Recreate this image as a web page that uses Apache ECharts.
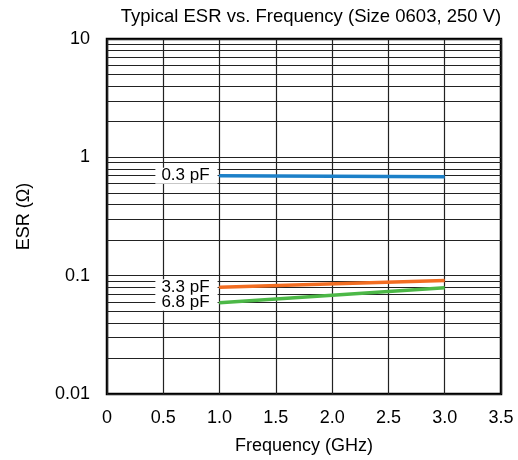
<!DOCTYPE html>
<html>
<head>
<meta charset="utf-8">
<script src="https://cdn.jsdelivr.net/npm/echarts@6/dist/echarts.min.js"></script>
<style>
html,body{margin:0;padding:0;background:#fff;}
#chart{width:518px;height:460px;}
</style>
</head>
<body>
<div id="chart"></div>
<script>
// Data
var seriesNames = ['0.3 pF', '3.3 pF', '6.8 pF'];
var freqGHz = [1.0, 3.0];
var esr03pF = [0.70, 0.685];
var esr33pF = [0.080, 0.091];
var esr68pF = [0.059, 0.079];
var seriesColors = ['#1c80c8', '#f26d22', '#4cb847'];

var xTickValues = [0, 0.5, 1, 1.5, 2, 2.5, 3, 3.5];
var xTickLabels = ['0', '0.5', '1.0', '1.5', '2.0', '2.5', '3.0', '3.5'];
var yTickValues = [0.01, 0.1, 1, 10];
var yTickLabels = ['0.01', '0.1', '1', '10'];
var decadeStarts = [0.01, 0.1, 1];
var minorMultipliers = [2, 3, 4, 5, 6, 7, 8, 9];

var FONT = 'Liberation Sans, Arial, sans-serif';

function nearestLabel(v, vals, labels) {
  var best = 0, bd = Infinity;
  for (var i = 0; i < vals.length; i++) {
    var d;
    if (vals[i] === 0 || v === 0) d = Math.abs(v - vals[i]);
    else d = Math.abs(Math.log(Math.abs(v)) - Math.log(vals[i]));
    if (d < bd) { bd = d; best = i; }
  }
  return labels[best];
}

var minorLines = [];
decadeStarts.forEach(function (d) {
  minorMultipliers.forEach(function (m) {
    minorLines.push({ yAxis: +(d * m).toPrecision(3) });
  });
});

function buildSeries(name, ys, color) {
  return {
    name: name,
    type: 'line',
    z: 5,
    data: freqGHz.map(function (x, i) { return [x, ys[i]]; }),
    symbol: 'none',
    lineStyle: { color: color, width: 3.5 },
    itemStyle: { color: color },
    emphasis: { disabled: true },
    silent: true,
    animation: false,
    markPoint: {
      silent: true,
      animation: false,
      symbol: 'circle',
      symbolSize: 2,
      itemStyle: { color: color },
      data: [{
        coord: [freqGHz[0], ys[0]],
        label: {
          show: true,
          position: 'left',
          distance: 1,
          formatter: name,
          backgroundColor: '#fff',
          padding: [1, 8, 0, 6],
          lineHeight: 15,
          color: '#000',
          fontFamily: FONT,
          fontSize: 17
        }
      }]
    }
  };
}

var chart = echarts.init(document.getElementById('chart'), null, { renderer: 'canvas' });
chart.setOption({
  animation: false,
  backgroundColor: '#fff',
  title: {
    text: 'Typical ESR vs. Frequency (Size 0603, 250 V)',
    left: 306,
    top: 2,
    textAlign: 'center',
    textStyle: { fontFamily: FONT, fontSize: 18.5, fontWeight: 'normal', color: '#000' }
  },
  grid: {
    left: 107, right: 17, top: 39, bottom: 66,
    show: true, borderColor: '#000', borderWidth: 2.5, backgroundColor: 'transparent'
  },
  xAxis: {
    type: 'value',
    min: 0, max: 3.5, interval: 0.5,
    name: 'Frequency (GHz)',
    nameLocation: 'middle',
    nameGap: 43,
    nameTextStyle: { fontFamily: FONT, fontSize: 18, color: '#000' },
    axisLine: { show: false },
    axisTick: { show: false },
    axisLabel: {
      margin: 15,
      fontFamily: FONT, fontSize: 18, color: '#000',
      formatter: function (v) { return nearestLabel(v, xTickValues, xTickLabels); }
    },
    splitLine: { show: true, lineStyle: { color: '#222', width: 1.2 } }
  },
  yAxis: {
    type: 'log',
    logBase: 10,
    min: 0.01, max: 10,
    name: 'ESR (Ω)',
    nameLocation: 'middle',
    nameGap: 74,
    nameTextStyle: { fontFamily: FONT, fontSize: 18, color: '#000' },
    axisLine: { show: false },
    axisTick: { show: false },
    axisLabel: {
      margin: 17,
      fontFamily: FONT, fontSize: 18, color: '#000',
      formatter: function (v) { return nearestLabel(v, yTickValues, yTickLabels); }
    },
    splitLine: { show: true, lineStyle: { color: '#222', width: 1.2 } }
  },
  series: [
    {
      type: 'line',
      z: 1,
      data: [],
      silent: true,
      markLine: {
        silent: true,
        symbol: 'none',
        animation: false,
        label: { show: false },
        lineStyle: { color: '#222', width: 1.2, type: 'solid' },
        emphasis: { disabled: true },
        data: minorLines
      }
    },
    buildSeries(seriesNames[0], esr03pF, seriesColors[0]),
    buildSeries(seriesNames[1], esr33pF, seriesColors[1]),
    buildSeries(seriesNames[2], esr68pF, seriesColors[2])
  ]
});
</script>
</body>
</html>
